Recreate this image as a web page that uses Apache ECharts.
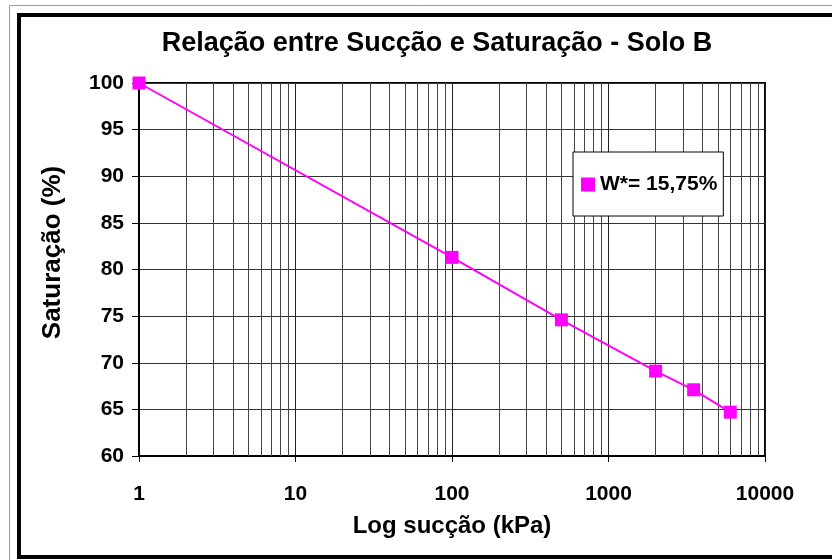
<!DOCTYPE html>
<html>
<head>
<meta charset="utf-8">
<script src="https://cdn.jsdelivr.net/npm/echarts@6/dist/echarts.min.js"></script>
<style>
html,body{margin:0;padding:0;background:#fff;}
#chart{width:832px;height:560px;}
</style>
</head>
<body>
<div id="chart"></div>
<script>
// ---- data ----
var suction = [1, 100, 500, 2000, 3500, 6000];          // kPa
var saturation = [100, 81.3, 74.6, 69.1, 67.1, 64.7];   // %
var seriesName = 'W*= 15,75%';
var xTickLabels = {1: '1', 10: '10', 100: '100', 1000: '1000', 10000: '10000'};
var minorGrid = [2,3,4,5,6,7,8,9,20,30,40,50,60,70,80,90,200,300,400,500,600,700,800,900,2000,3000,4000,5000,6000,7000,8000,9000];
var titleText = 'Relação entre Sucção e Saturação - Solo B';
var xName = 'Log sucção (kPa)';
var yName = 'Saturação (%)';

var FONT = '"Liberation Sans", Arial, Helvetica, sans-serif';
var chart = echarts.init(document.getElementById('chart'), null, {renderer: 'canvas'});

var points = suction.map(function (s, i) { return [s, saturation[i]]; });

chart.setOption({
  animation: false,
  backgroundColor: '#fff',
  title: {
    text: titleText,
    left: 432,
    top: 25,
    textAlign: 'center',
    textStyle: {fontFamily: FONT, fontWeight: 'bold', fontSize: 27, color: '#000'}
  },
  graphic: [
    {type: 'rect', shape: {x: 9.5, y: 5.5, width: 900, height: 700}, style: {fill: 'none', stroke: '#999', lineWidth: 1}, silent: true, z: 100},
    {type: 'rect', shape: {x: 19, y: 15, width: 900, height: 542}, style: {fill: 'none', stroke: '#000', lineWidth: 4}, silent: true, z: 100}
  ],
  legend: {
    left: 573,
    top: 152,
    orient: 'vertical',
    padding: [22, 6, 21, 8],
    borderColor: '#000',
    borderWidth: 1,
    backgroundColor: '#fff',
    itemWidth: 14,
    itemHeight: 14,
    icon: 'rect',
    textStyle: {fontFamily: FONT, fontWeight: 'bold', fontSize: 21, color: '#000'},
    data: [seriesName]
  },
  grid: {
    left: 139, right: 67, top: 83, bottom: 104,
    show: true, borderColor: '#000', borderWidth: 2, containLabel: false
  },
  xAxis: {
    type: 'log',
    logBase: 10,
    min: 1,
    max: 10000,
    name: xName,
    nameLocation: 'middle',
    nameGap: 58,
    nameTextStyle: {fontFamily: FONT, fontWeight: 'bold', fontSize: 24, color: '#000'},
    axisLine: {show: true, lineStyle: {color: '#000', width: 2}},
    axisTick: {show: true, inside: false, length: 6, lineStyle: {color: '#000', width: 1}},
    axisLabel: {
      fontFamily: FONT, fontWeight: 'bold', fontSize: 21, color: '#000', margin: 28,
      formatter: function (v) { var k = Math.round(v); return xTickLabels[k] !== undefined ? xTickLabels[k] : String(k); }
    },
    splitLine: {show: true, lineStyle: {color: '#222', width: 1}},
    minorTick: {show: false},
    minorSplitLine: {show: false}
  },
  yAxis: {
    type: 'value',
    min: 60,
    max: 100,
    interval: 5,
    name: yName,
    nameLocation: 'middle',
    nameGap: 73,
    nameTextStyle: {fontFamily: FONT, fontWeight: 'bold', fontSize: 26, color: '#000', padding: [0, 0, 0, 34]},
    axisLine: {show: true, lineStyle: {color: '#000', width: 2}},
    axisTick: {show: true, inside: false, length: 7, lineStyle: {color: '#000', width: 1}},
    axisLabel: {fontFamily: FONT, fontWeight: 'bold', fontSize: 21, color: '#000', margin: 15},
    splitLine: {show: true, lineStyle: {color: '#333', width: 1}}
  },
  series: [
    {
      name: seriesName,
      type: 'line',
      data: points,
      symbol: 'rect',
      symbolSize: 13,
      itemStyle: {color: '#FF00FF'},
      lineStyle: {color: '#FF00FF', width: 2},
      emphasis: {disabled: true},
      z: 5,
      markLine: {
        silent: true,
        symbol: ['none', 'none'],
        label: {show: false},
        lineStyle: {color: '#444', width: 1, type: 'solid'},
        emphasis: {disabled: true},
        z: 1,
        data: minorGrid.map(function (v) { return {xAxis: v}; })
      }
    }
  ]
});
</script>
</body>
</html>
